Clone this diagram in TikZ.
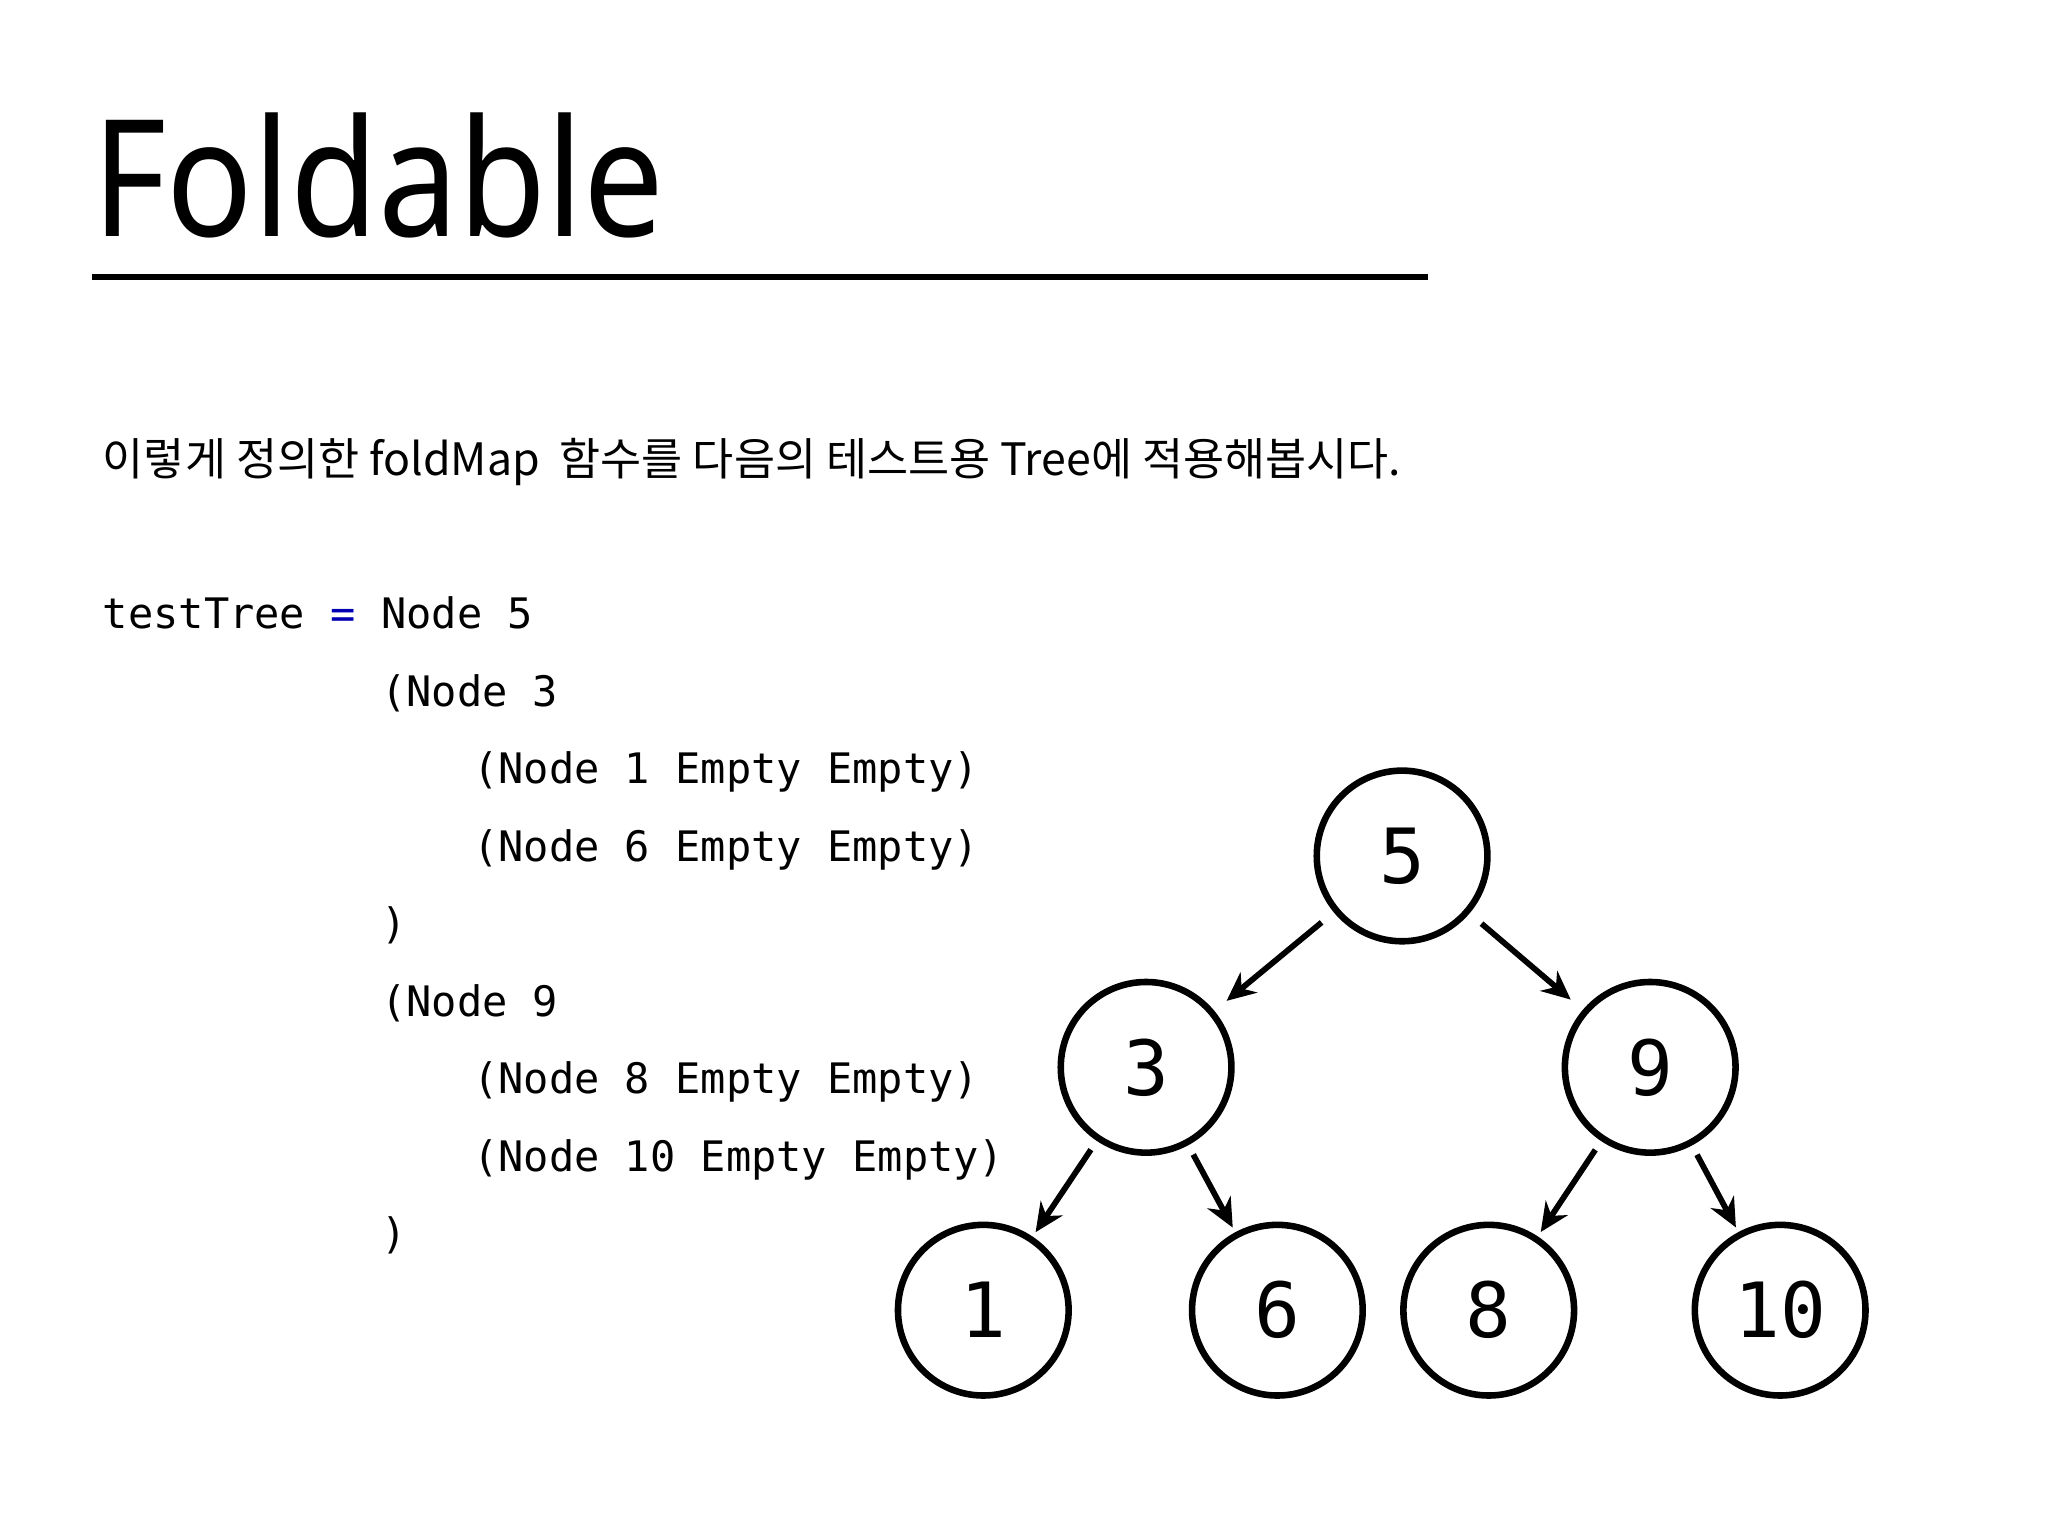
\documentclass[tikz,border=0pt]{standalone}
\usepackage{fontspec}
\setmainfont{Noto Sans}
\newfontfamily\kr{Noto Sans CJK KR}
\newfontfamily\cmono{DejaVu Sans Mono}
\usetikzlibrary{arrows.meta}
\begin{document}
\begin{tikzpicture}[x=0.5pt,y=-0.5pt,
  tn/.style={circle,draw,line width=2.5pt,minimum size=65pt,inner sep=0pt,font=\cmono\fontsize{29}{29}\selectfont},
  ed/.style={line width=2.2pt,-{Stealth[length=11pt,width=10pt]},shorten >=2pt,shorten <=4pt},
  code/.style={anchor=base west,inner sep=0pt,font=\cmono\fontsize{16}{16}\selectfont}]
\useasboundingbox[fill=white] (0,0) rectangle (1560,1170);
\node[anchor=base west,inner sep=0pt,xscale=0.88,font=\fontsize{62}{62}\selectfont] (title) at (70,180) {Foldable};
\draw[line width=2.6pt] (70,211) -- (1088,211);
\node[anchor=base west,inner sep=0pt,font=\kr\fontsize{17}{17}\selectfont] (desc) at (78,362) {이렇게 정의한 foldMap\ \ 함수를 다음의 테스트용 Tree에 적용해봅시다.};
\node[code] (c1) at (78,479) {testTree \textcolor{blue!70!black}{=} Node 5};
\node[code] (c2) at (290,538) {(Node 3};
\node[code] (c3) at (360,597) {(Node 1 Empty Empty)};
\node[code] (c4) at (360,656) {(Node 6 Empty Empty)};
\node[code] (c5) at (290,715) {)};
\node[code] (c6) at (290,774) {(Node 9};
\node[code] (c7) at (360,833) {(Node 8 Empty Empty)};
\node[code] (c8) at (360,892) {(Node 10 Empty Empty)};
\node[code] (c9) at (290,951) {)};
\node[tn] (n5) at (1068,652) {5};
\node[tn] (n3) at (873,813) {3};
\node[tn] (n9) at (1257,813) {9};
\node[tn] (n1) at (749,998) {1};
\node[tn] (n6) at (973,998) {6};
\node[tn] (n8) at (1134,998) {8};
\node[tn] (n10) at (1356,998) {10};
\draw[ed,shorten >=6pt,shorten <=6pt] (n5) -- (n3);
\draw[ed,shorten >=6pt,shorten <=6pt] (n5) -- (n9);
\draw[ed] (n3) -- (n1);
\draw[ed] (n3) -- (n6);
\draw[ed] (n9) -- (n8);
\draw[ed] (n9) -- (n10);
\end{tikzpicture}
\end{document}
